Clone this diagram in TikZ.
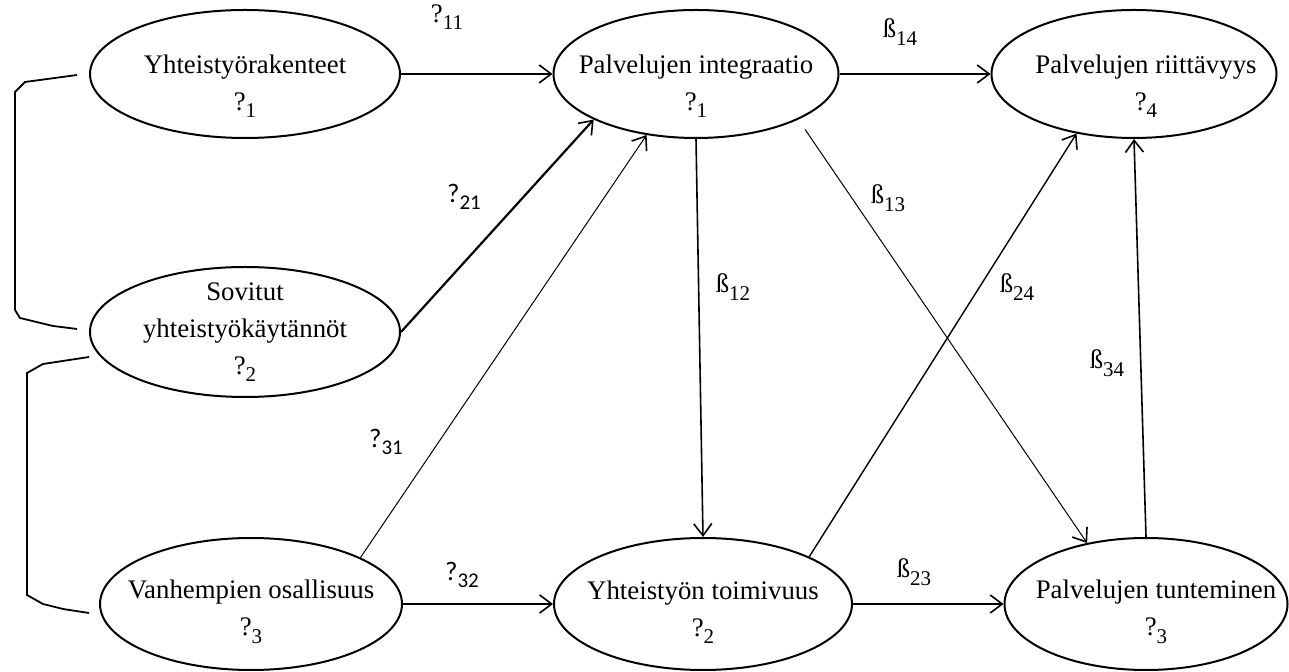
\documentclass[tikz,border=0pt]{standalone}
\usepackage{fontspec}
\setmainfont{Liberation Serif}
\newfontfamily\calfont{Carlito}
\usetikzlibrary{shapes.geometric,arrows.meta,calc}

\newcommand\idx[1]{\raisebox{-0.28em}{\fontsize{10.5}{10.5}\selectfont #1}}

\tikzset{
  oval/.style={ellipse, draw, line width=1pt, inner sep=0pt},
  txt/.style={align=center, font=\fontsize{13.4}{18.5}\selectfont, inner sep=0pt},
  lbl/.style={font=\fontsize{13.4}{15}\selectfont, inner sep=0pt},
  lblsans/.style={font=\calfont\fontsize{13.4}{15}\selectfont, inner sep=0pt},
  arr/.style={-{Straight Barb[length=6pt,width=9pt,line width=0.8pt]}, line width=0.8pt},
  thinarr/.style={arr, line width=0.5pt},
  brace/.style={line width=0.9pt}
}

\begin{document}
\begin{tikzpicture}[x=0.5pt, y=-0.5pt]
\useasboundingbox (0,0) rectangle (1289,672);
% exogenous
\node[oval, minimum width=155pt, minimum height=64pt] (yr) at (245,74){};
\node[txt, yshift=-6pt] (yrT) at (yr) {Yhteistyörakenteet\\?\idx{1}};
\node[oval, minimum width=155pt, minimum height=65pt] (sov) at (245,332){};
\node[txt] (sovT) at (sov) {Sovitut\\yhteistyökäytännöt\\?\idx{2}};
\node[oval, minimum width=151pt, minimum height=66pt] (van) at (251,604){};
\node[txt, yshift=-4pt] (vanT) at (van) {Vanhempien osallisuus\\?\idx{3}};
% endogenous
\node[oval, minimum width=142.5pt, minimum height=64pt] (int) at (696,74){};
\node[txt, yshift=-6pt] (intT) at (int) {Palvelujen integraatio\\?\idx{1}};
\node[oval, minimum width=142.5pt, minimum height=64pt] (rii) at (1134,74){};
\node[txt, yshift=-6pt, xshift=6pt] (riiT) at (rii) {Palvelujen riittävyys\\?\idx{4}};
\node[oval, minimum width=149pt, minimum height=66pt] (toi) at (703,604){};
\node[txt, yshift=-4pt] (toiT) at (toi) {Yhteistyön toimivuus\\?\idx{2}};
\node[oval, minimum width=141.5pt, minimum height=66pt] (tun) at (1146,604){};
\node[txt, yshift=-4pt, xshift=5pt] (tunT) at (tun) {Palvelujen tunteminen\\?\idx{3}};

% correlations
\draw[brace] ($(yr.west)+(-12,1)$) -- (25,82) -- (15,92) -- (15,310) -- (20,318)
  -- (53,326) -- ($(sov.west)+(-12,-3)$);
\draw[brace] ($(sov.west)+(0,25)$) -- (43,364) -- (27,373) -- (27,595) -- (43,604)
  -- (63,609) -- ($(van.west)+(-10,9)$);

% paths
\draw[arr] (yr.east) -- (int.west);
\draw[arr, line width=1.1pt] (sov.east) -- (int.204);
\draw[thinarr] (van.23.5) -- (int.231);
\draw[arr] (van.east) -- (toi.west);
\draw[arr] (int.south) -- (toi.north);
\draw[thinarr, shorten <=6pt] (int.336) -- (tun.134);
\draw[arr, line width=0.7pt] (toi.24) -- (rii.226);
\draw[arr] (tun.north) -- (rii.south);
\draw[arr] (int.east) -- (rii.west);
\draw[arr] (toi.east) -- (tun.west);

% coefficients
\node[lbl] (g11) at (447,17) {?\idx{11}};
\node[lblsans] (g21) at (464,197) {?\idx{21}};
\node[lblsans] (g31) at (386,442) {?\idx{31}};
\node[lblsans] (g32) at (462,575) {?\idx{32}};
\node[lbl] (b12) at (733,287) {ß\idx{12}};
\node[lbl] (b13) at (888,198) {ß\idx{13}};
\node[lbl] (b14) at (900,32) {ß\idx{14}};
\node[lbl] (b23) at (914,572) {ß\idx{23}};
\node[lbl] (b24) at (1017,287) {ß\idx{24}};
\node[lbl] (b34) at (1107,363) {ß\idx{34}};
\end{tikzpicture}
\end{document}
